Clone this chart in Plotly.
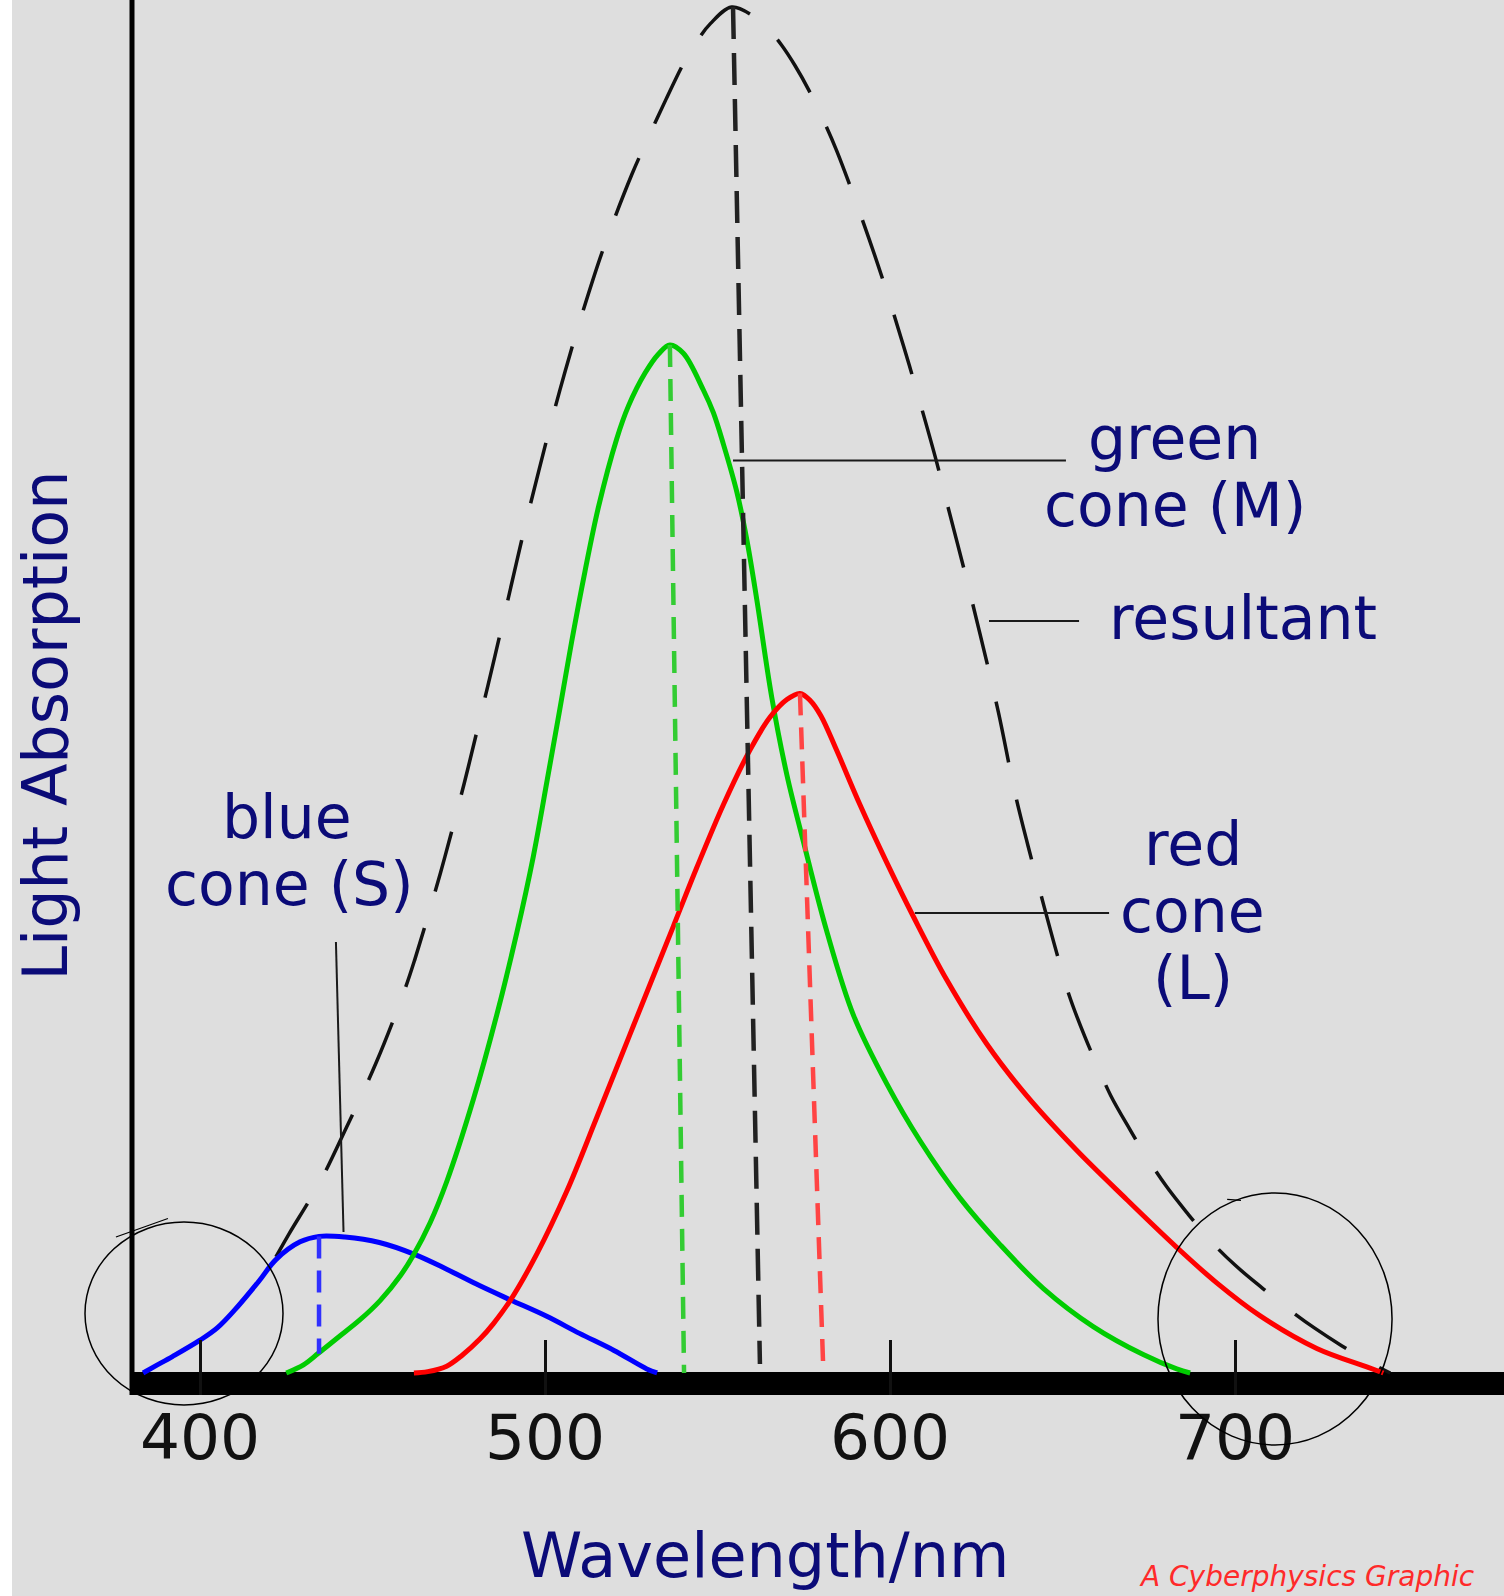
import plotly.graph_objects as go

# ---------------- data (wavelength in nm, relative light absorption) ----------------
blue_wl = [383.5, 387, 392, 400, 405, 410, 417, 422, 429, 434.5, 442, 452, 462, 471.5,
           481, 490, 500.5, 510, 520, 529.5, 532.5]
blue_abs = [0.0, 0.005, 0.012, 0.024, 0.033, 0.046, 0.067, 0.083, 0.096, 0.100, 0.0995,
            0.0955, 0.087, 0.076, 0.064, 0.0535, 0.0415, 0.029, 0.0165, 0.003, 0.0]

green_wl = [425, 430, 434.3, 440, 446.4, 452.2, 458, 461.8, 466.7, 471.5, 479.2, 486,
            491.8, 496.6, 500.7, 504.3, 507.7, 511.6, 515.5, 520.8, 524.2, 529, 532.9,
            536.2, 540.1, 545.9, 548.8, 551.7, 555.6, 558.5, 561.4, 565.7, 570.1, 574.9,
            581.6, 589.4, 599, 608.7, 620.3, 631.9, 644.4, 658.9, 673.4, 683.1, 687]
green_abs = [0.0, 0.006, 0.0144, 0.026, 0.039, 0.053, 0.071, 0.086, 0.110, 0.140, 0.200,
             0.262, 0.322, 0.378, 0.435, 0.486, 0.535, 0.587, 0.634, 0.684, 0.708, 0.732,
             0.746, 0.7526, 0.7465, 0.7196, 0.703, 0.680, 0.645, 0.610, 0.566, 0.495,
             0.438, 0.389, 0.324, 0.262, 0.212, 0.170, 0.128, 0.094, 0.062, 0.034,
             0.0135, 0.003, 0.0]

red_wl = [462, 466, 471.5, 476, 481.2, 485, 489.9, 497.6, 506.3, 515, 525.6, 537.2, 544,
          551.7, 559.4, 565.2, 570.1, 573.9, 577, 580, 584.5, 591.3, 599, 606.8, 616.4,
          628, 639.6, 654.1, 668.6, 683.1, 694.7, 707.2, 723.7, 738.2, 743]
red_abs = [0.0, 0.001, 0.005, 0.013, 0.025, 0.036, 0.053, 0.087, 0.133, 0.187, 0.254,
           0.327, 0.370, 0.416, 0.456, 0.480, 0.493, 0.4975, 0.492, 0.481, 0.456, 0.416,
           0.374, 0.334, 0.288, 0.241, 0.203, 0.163, 0.127, 0.092, 0.066, 0.042, 0.018,
           0.0045, 0.0]

resultant_wl = [422, 425.6, 434.8, 442.3, 451.2, 459.4, 462.3, 468.1, 471, 475.4, 477.8,
                482.1, 485.5, 491.8, 494.7, 501.4, 505.8, 510.6, 516.9, 525.1, 529.5, 535,
                540, 543, 548, 554.1, 560, 565, 568.6, 572.5, 576.5, 580.7, 584.5, 592.3,
                598.1, 603.9, 607.5, 613.5, 616.4, 621.7, 626, 631.4, 636.2, 640, 644.4,
                648.6, 652, 656.5, 659.9, 664, 669.6, 672.9, 680, 686.5, 692.8, 700, 708,
                715.9, 723, 730.9, 739.6, 745]
resultant_abs = [0.085, 0.101, 0.140, 0.179, 0.228, 0.281, 0.303, 0.352, 0.378, 0.420,
                 0.444, 0.489, 0.525, 0.594, 0.625, 0.692, 0.733, 0.774, 0.823, 0.877,
                 0.902, 0.932, 0.958, 0.971, 0.988, 1.0, 0.994, 0.983, 0.972, 0.957,
                 0.939, 0.917, 0.895, 0.842, 0.799, 0.752, 0.721, 0.667, 0.638, 0.586,
                 0.542, 0.484, 0.425, 0.386, 0.344, 0.305, 0.276, 0.246, 0.226, 0.203,
                 0.178, 0.164, 0.137, 0.116, 0.097, 0.079, 0.062, 0.046, 0.033, 0.020,
                 0.007, 0.0]

# peak drop lines: (top wavelength, top value) -> (base wavelength, base value)
drop_names = ["blue", "green", "resultant", "red"]
drop_top_wl = [434.5, 536.2, 554.5, 573.9]
drop_top_abs = [0.100, 0.7526, 1.0, 0.4975]
drop_base_wl = [434.5, 540.3, 562.3, 580.7]
drop_base_abs = [0.014, 0.0, 0.0066, 0.0]

tick_vals = [400, 500, 600, 700]
tick_text = ["400", "500", "600", "700"]

# label texts
label_lines = ["green", "cone (M)", "resultant", "red", "cone", "(L)", "blue", "cone (S)"]
label_wl = [682.6, 682.6, 662.9, 687.8, 687.8, 687.8, 425.3, 425.8]
label_abs = [0.6845, 0.6354, 0.5527, 0.3873, 0.3382, 0.2892, 0.4070, 0.3580]
label_anchor = ["center", "center", "left", "center", "center", "center", "center", "center"]

# leader lines (wavelength, value) pairs
leader_x0 = [554.5, 628.7, 607.2, 439.4]
leader_y0 = [0.668, 0.5505, 0.3367, 0.3155]
leader_x1 = [651.0, 654.8, 663.5, 441.6]
leader_y1 = [0.668, 0.5505, 0.3367, 0.1032]

X_RANGE = [380.29, 777.97]
Y_RANGE = [-0.01611, 1.00512]

NAVY = "#0b0b78"
FONT = "DejaVu Sans"

fig = go.Figure()


def add_line(x, y, color, width, dash=None, spline=True):
    fig.add_trace(go.Scatter(
        x=x, y=y, mode="lines", hoverinfo="skip", showlegend=False,
        line=dict(color=color, width=width, dash=dash,
                  shape="spline" if spline else "linear", smoothing=1.0)))


add_line(resultant_wl, resultant_abs, "#111111", 3.5, dash="62px,38px")
add_line(blue_wl, blue_abs, "#0000ff", 5)
add_line(green_wl, green_abs, "#00cc00", 5)
add_line(red_wl, red_abs, "#ff0000", 5)

drop_colors = ["#3030ff", "#33cc33", "#222222", "#ff4444"]
drop_dash = ["22px,12px", "22px,12px", "32px,14px", "22px,12px"]
for i in range(len(drop_names)):
    add_line([drop_top_wl[i], drop_base_wl[i]], [drop_top_abs[i], drop_base_abs[i]],
             drop_colors[i], 4.5, dash=drop_dash[i], spline=False)

for i in range(len(leader_x0)):
    add_line([leader_x0[i], leader_x1[i]], [leader_y0[i], leader_y1[i]],
             "#1a1a1a", 2, spline=False)

shapes = []
# thick base bar
shapes.append(dict(type="rect", xref="paper", yref="y", x0=0, x1=1,
                   y0=Y_RANGE[0], y1=0.0007, fillcolor="black", line=dict(width=0),
                   layer="below"))
# vertical axis line
shapes.append(dict(type="line", xref="paper", yref="paper", x0=0, x1=0, y0=0, y1=1,
                   line=dict(color="black", width=5)))
# white strip on the far left
shapes.append(dict(type="rect", xref="paper", yref="paper", x0=-132 / 1372,
                   x1=-120 / 1372, y0=-201 / 1395, y1=1, fillcolor="white",
                   line=dict(width=0)))
# hand drawn circles
shapes.append(dict(type="circle", xref="paper", yref="paper", x0=-0.03426, x1=0.11006,
                   y0=-0.00717, y1=0.12401, line=dict(color="black", width=1.5)))
shapes.append(dict(type="line", xref="paper", yref="paper", x0=-0.0117, x1=0.0262,
                   y0=0.1133, y1=0.1265, line=dict(color="black", width=1.2)))
shapes.append(dict(type="circle", xref="paper", yref="paper", x0=0.7478, x1=0.9184,
                   y0=-0.03584, y1=0.1448, line=dict(color="black", width=1.5)))
shapes.append(dict(type="line", xref="paper", yref="paper", x0=0.7982, x1=0.8083,
                   y0=0.1403, y1=0.1395, line=dict(color="black", width=1.2)))

annotations = []
for i, t in enumerate(label_lines):
    annotations.append(dict(x=label_wl[i], y=label_abs[i], xref="x", yref="y", text=t,
                            showarrow=False, xanchor=label_anchor[i], yanchor="middle",
                            font=dict(family=FONT, size=60, color=NAVY)))
annotations.append(dict(x=-86 / 1372, y=0.474, xref="paper", yref="y",
                        text="Light Absorption", textangle=-90, showarrow=False,
                        xanchor="center", yanchor="middle",
                        font=dict(family=FONT, size=62, color=NAVY)))
annotations.append(dict(x=(765 - 132) / 1372, y=-(1556 - 1395) / 1395, xref="paper",
                        yref="paper", text="Wavelength/nm", showarrow=False,
                        xanchor="center", yanchor="middle",
                        font=dict(family=FONT, size=62, color=NAVY)))
annotations.append(dict(x=(1137 - 132) / 1372, y=-(1595 - 1395) / 1395, xref="paper",
                        yref="paper", text="<i>A Cyberphysics Graphic</i>",
                        showarrow=False, xanchor="left", yanchor="bottom",
                        font=dict(family=FONT, size=28, color="#ff2a2a")))

fig.update_layout(
    width=1504, height=1596,
    margin=dict(l=132, r=0, t=0, b=201, pad=0),
    paper_bgcolor="#dedede", plot_bgcolor="#dedede",
    showlegend=False,
    xaxis=dict(range=X_RANGE, showgrid=False, zeroline=False, showline=False,
               tickvals=tick_vals, ticktext=tick_text, ticks="inside", ticklen=55,
               tickwidth=3, tickcolor="#111111",
               tickfont=dict(family=FONT, size=63, color="#111111")),
    yaxis=dict(range=Y_RANGE, showgrid=False, zeroline=False, showline=False,
               showticklabels=False, ticks=""),
    shapes=shapes, annotations=annotations,
)

fig.write_html("out.html", config={"displayModeBar": False},
               post_script="document.body.style.margin='0';")
